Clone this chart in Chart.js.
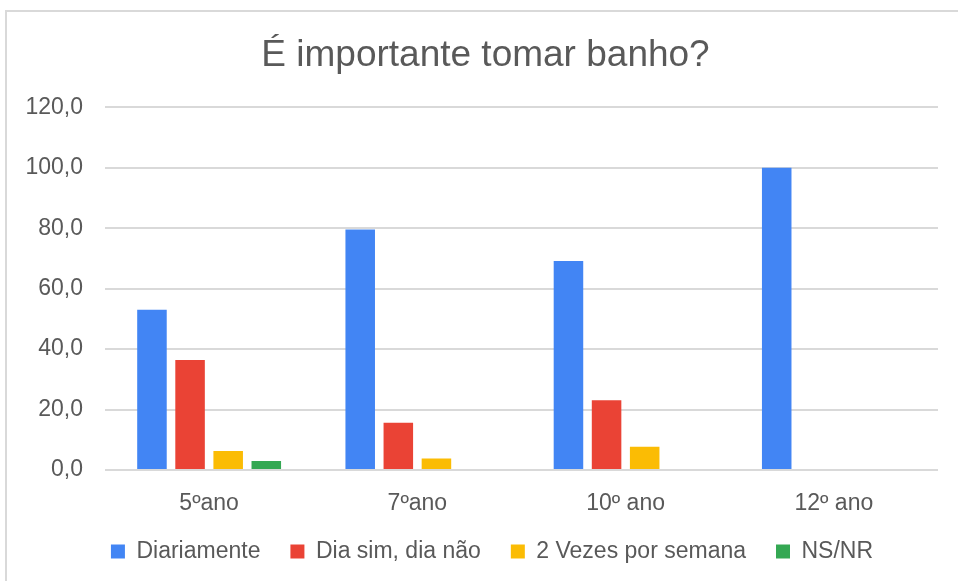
<!DOCTYPE html>
<html>
<head>
<meta charset="utf-8">
<script src="https://cdn.jsdelivr.net/npm/chart.js@4.4.0/dist/chart.umd.min.js"></script>
<style>
  body { margin: 0; background: #fff; }
  #frame { position: absolute; left: 5px; top: 10px; width: 960px; height: 580px;
           border-left: 2px solid #d9d9d9; border-top: 2px solid #d9d9d9; }
  #chart { position: absolute; left: 0; top: 0; }
</style>
</head>
<body>
<div id="frame"></div>
<canvas id="chart" width="958" height="581"></canvas>
<script>
// categorias (anos) e séries
const anos = ["5ºano", "7ºano", "10º ano", "12º ano"]
const diariamente = [53.0, 79.6, 69.2, 100.0]
const diaSimDiaNao = [36.4, 15.6, 23.1, 0]
const duasVezes = [6.3, 3.8, 7.7, 0]
const nsnr = [3.0, 0, 0, 0]
const yTicks = [0, 20, 40, 60, 80, 100, 120]

const txt = "#595959"
Chart.defaults.font.family = "'Liberation Sans', Arial, sans-serif"
Chart.defaults.color = txt

// title and legend in the original are centred on the frame, not on the plot
const shiftBoxes = {
    id: "shiftBoxes",
    afterLayout(chart) {
        chart.titleBlock.left += 33
        chart.legend.left += 46
    }
}

new Chart("chart", {
    type: "bar",
    data: {
        labels: anos,
        datasets: [
            { label: "Diariamente", data: diariamente, backgroundColor: "#4285F4" },
            { label: "Dia sim, dia não", data: diaSimDiaNao, backgroundColor: "#EA4335" },
            { label: "2 Vezes por semana", data: duasVezes, backgroundColor: "#FBBC04" },
            { label: "NS/NR", data: nsnr, backgroundColor: "#34A853" }
        ]
    },
    plugins: [shiftBoxes],
    options: {
        responsive: false,
        animation: false,
        categoryPercentage: 0.732,
        barPercentage: 0.775,
        layout: { padding: { left: 0, right: 20, top: 12, bottom: 8 } },
        plugins: {
            title: {
                display: true,
                text: "É importante tomar banho?",
                color: txt,
                font: { size: 37, weight: "normal" },
                padding: { top: 22, bottom: 29 }
            },
            legend: {
                position: "bottom",
                labels: {
                    color: txt,
                    font: { size: 23 },
                    boxWidth: 14,
                    boxHeight: 14,
                    padding: 30
                }
            },
            tooltip: { enabled: false }
        },
        scales: {
            x: {
                grid: { display: false },
                border: { display: false },
                ticks: { font: { size: 23 }, color: txt, padding: 12 },
                afterFit: s => { s.height = 40 }
            },
            y: {
                min: 0,
                max: 120,
                afterBuildTicks: axis => { axis.ticks = yTicks.map(v => ({ value: v })) },
                afterFit: s => { s.width = 105 },
                grid: { color: "#d9d9d9", lineWidth: 2, drawTicks: false },
                border: { display: false },
                ticks: {
                    font: { size: 23 },
                    color: txt,
                    padding: 22,
                    callback: v => v.toFixed(1).replace(".", ",")
                }
            }
        }
    }
})
</script>
</body>
</html>
